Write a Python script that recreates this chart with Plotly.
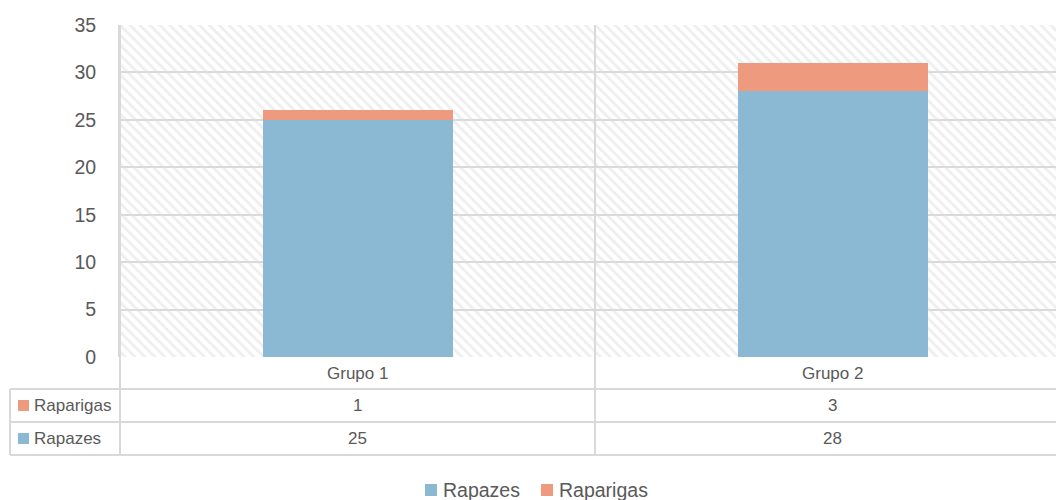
import plotly.graph_objects as go

# ---- data ----
categorias = ["Grupo 1", "Grupo 2"]
series_nomes = ["Rapazes", "Raparigas"]
rapazes = [25, 28]
raparigas = [1, 3]
y_ticks = [0, 5, 10, 15, 20, 25, 30, 35]

# ---- styling ----
COR_RAPAZES = "#8BB9D3"
COR_RAPARIGAS = "#ED9A7E"
COR_LINHA = "#D9D9D9"
COR_TEXTO = "#595959"
FONTE = "Liberation Sans, Arial, sans-serif"

W, H = 1056, 500
L, R, T, B = 120, 1056, 25, 357  # visible plot area in pixels
CAT_W = 475                       # width of one category column in pixels
x_hi = -0.5 + (R - L) / CAT_W     # category axis is clipped at the right edge


def px(x):
    return (x - L) / (R - L)


def py(y):
    return (B - y) / (B - T)


def cat_px(c):
    # pixel position of a category-axis coordinate
    return L + (c + 0.5) * CAT_W


fig = go.Figure()

# hatched background of the plot area (base axes, drawn beneath the bars)
ymax = y_ticks[-1]
fig.add_trace(go.Scatter(
    x=[0, 1, 1, 0, 0], y=[0, 0, ymax, ymax, 0],
    xaxis="x", yaxis="y", mode="lines", fill="toself",
    fillcolor="rgba(0,0,0,0)", line=dict(width=0),
    fillpattern=dict(shape="\\", fgcolor="#DDDDDD", bgcolor="rgba(0,0,0,0)",
                     size=7, solidity=0.4),
    hoverinfo="skip", showlegend=False,
))

# stacked columns
for nome, vals, cor in [(series_nomes[0], rapazes, COR_RAPAZES),
                        (series_nomes[1], raparigas, COR_RAPARIGAS)]:
    fig.add_trace(go.Bar(
        x=categorias, y=vals, name=nome, xaxis="x2", yaxis="y",
        marker=dict(color=cor, line=dict(width=0)), width=0.4,
        showlegend=False,
    ))

shapes = []
annotations = []


def hline(y, x0, x1):
    shapes.append(dict(type="line", xref="paper", yref="paper",
                       x0=px(x0), x1=px(x1), y0=py(y), y1=py(y),
                       line=dict(color=COR_LINHA, width=2), layer="above"))


def vline(x, y0, y1):
    shapes.append(dict(type="line", xref="paper", yref="paper",
                       x0=px(x), x1=px(x), y0=py(y0), y1=py(y1),
                       line=dict(color=COR_LINHA, width=2), layer="above"))


def texto(x, y, s, size=17, xanchor="center"):
    annotations.append(dict(x=px(x), y=py(y), xref="paper", yref="paper",
                            text=s, showarrow=False, xanchor=xanchor,
                            yanchor="middle",
                            font=dict(size=size, color=COR_TEXTO, family=FONTE)))


# data table grid
row_cat, row_f, row_m, row_end = 357, 389, 422, 455
tab_left = 10
col_mid = cat_px(0.5)
hline(row_f, tab_left, R)
hline(row_m, tab_left, R)
hline(row_end, tab_left, R)
vline(tab_left, row_f, row_end)
vline(L, T, row_end)
vline(col_mid, T, row_end)

# table contents
centros = [cat_px(i) for i in range(len(categorias))]
linhas = [(series_nomes[1], raparigas, COR_RAPARIGAS, (row_f + row_m) / 2),
          (series_nomes[0], rapazes, COR_RAPAZES, (row_m + row_end) / 2)]

for cx, cat in zip(centros, categorias):
    texto(cx, (row_cat + row_f) / 2, cat)

for nome, vals, cor, yc in linhas:
    shapes.append(dict(type="rect", xref="paper", yref="paper",
                       x0=px(18), x1=px(29), y0=py(yc - 5.5), y1=py(yc + 5.5),
                       fillcolor=cor, line=dict(width=0)))
    texto(32, yc, nome, xanchor="left")
    for cx, v in zip(centros, vals):
        texto(cx, yc, str(v))

# legend below the table
leg_y = 490
leg_items = [(series_nomes[0], COR_RAPAZES, 425), (series_nomes[1], COR_RAPARIGAS, 541)]
for nome, cor, x0 in leg_items:
    shapes.append(dict(type="rect", xref="paper", yref="paper",
                       x0=px(x0), x1=px(x0 + 12), y0=py(leg_y - 6), y1=py(leg_y + 6),
                       fillcolor=cor, line=dict(width=0)))
    texto(x0 + 16, leg_y, nome, size=19.5, xanchor="left")

fig.update_layout(
    width=W, height=H,
    margin=dict(l=L, r=W - R, t=T, b=H - B, pad=0),
    paper_bgcolor="white", plot_bgcolor="white",
    barmode="stack",
    showlegend=False,
    font=dict(family=FONTE, color=COR_TEXTO),
    xaxis=dict(range=[0, 1], visible=False, fixedrange=True),
    xaxis2=dict(overlaying="x", type="category", range=[-0.5, x_hi],
                visible=False, fixedrange=True),
    yaxis=dict(range=[0, ymax], tickvals=y_ticks, showgrid=True,
               gridcolor=COR_LINHA, gridwidth=2, zeroline=False,
               showline=True, linecolor=COR_LINHA, linewidth=2,
               ticks="", ticklabelstandoff=18,
               tickfont=dict(size=19.5, color=COR_TEXTO, family=FONTE),
               fixedrange=True),
    shapes=shapes, annotations=annotations,
)

fig.write_html("out.html")
